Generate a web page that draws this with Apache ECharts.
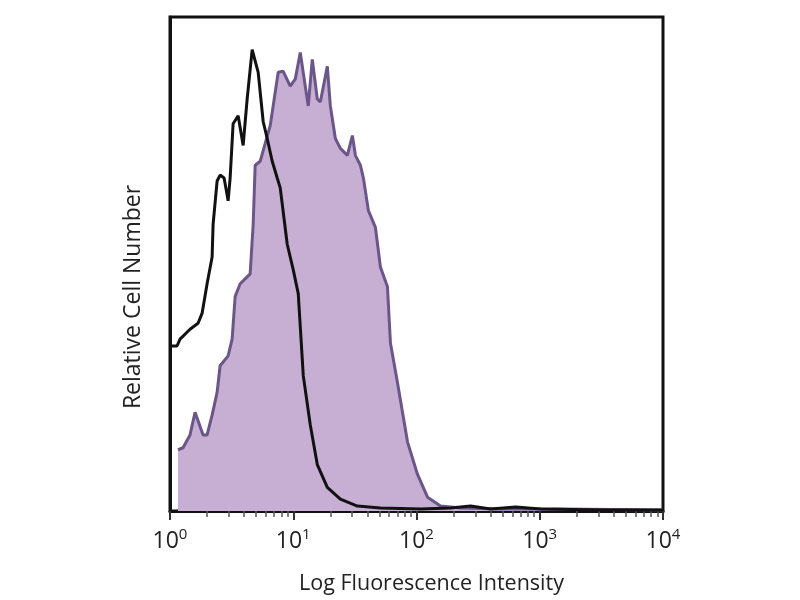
<!DOCTYPE html>
<html>
<head>
<meta charset="utf-8">
<script src="https://cdn.jsdelivr.net/npm/echarts@6/dist/echarts.min.js"></script>
<style>
  html, body { margin: 0; padding: 0; background: #fff; }
  #chart { width: 800px; height: 600px; }
</style>
</head>
<body>
<div id="chart"></div>
<script>
// control (black outline) histogram
let controlX = [1.019, 1.14, 1.206, 1.454, 1.689, 1.82, 2.0, 2.196, 2.237, 2.411, 2.55, 2.748, 2.962, 3.075, 3.252, 3.572, 3.922, 4.227, 4.642, 5.194, 5.704, 6.146, 6.751, 7.413, 7.841, 8.936, 10.0, 10.98, 11.4, 12.06, 13.75, 15.67, 18.9, 24.11, 33.14, 50.96, 107.8, 189, 274.8, 399.6, 638, 1019, 3133, 10000]
let controlY = [33.4, 33.4, 34.8, 36.8, 38, 40, 46, 51.4, 58, 66.8, 68, 67.4, 62.8, 67.4, 78.4, 80, 74, 83.4, 93.4, 88.8, 78.8, 75.4, 70.8, 67.4, 65.4, 54, 48.8, 44, 37.4, 27.4, 17.4, 9.4, 4.8, 2.4, 1, 0.6, 0.4, 0.6, 1, 0.4, 0.8, 0.4, 0.2, 0.2]

// stained (purple filled) histogram
let stainX = [1.161, 1.276, 1.454, 1.597, 1.855, 2.0, 2.196, 2.411, 2.55, 2.962, 3.192, 3.377, 3.709, 4.471, 4.729, 4.91, 5.393, 5.923, 6.501, 7.551, 8.292, 9.454, 10.38, 11.4, 12.52, 13.24, 14.27, 15.67, 16.58, 18.9, 20.0, 21.96, 24.11, 27.48, 30.18, 31.92, 35.05, 37.08, 40.72, 46.42, 50.96, 58.11, 61.46, 70.06, 84.52, 101.9, 122.9, 156.7, 227.9, 481.9, 1482, 10000]
let stainY = [12.4, 12.8, 15.4, 20, 15.4, 15.4, 19.4, 24, 29.4, 31.4, 34.8, 43.4, 46, 48, 58, 70, 70.8, 74.4, 78, 88.8, 89, 86, 87.4, 92.8, 86, 82, 91.4, 83.4, 82.8, 90, 82, 75.4, 73.4, 72, 76, 72, 70, 67.4, 60.8, 57.4, 49.4, 45.4, 34, 26, 14, 7.4, 2.8, 1, 0.6, 0.4, 0.4, 0.2]

let zip = (xs, ys) => xs.map((x, i) => [x, ys[i]])

let chart = echarts.init(document.getElementById('chart'))

chart.setOption({
  animation: false,
  backgroundColor: '#fff',
  textStyle: { fontFamily: 'Open Sans' },
  grid: {
    left: 170, right: 137, top: 17, bottom: 83,
    show: true, borderColor: '#111', borderWidth: 3
  },
  // y title sits a bit below the plot middle in the original
  graphic: [{
    type: 'text',
    x: 133,
    y: 297,
    rotation: Math.PI / 2,
    style: {
      text: 'Relative Cell Number',
      fontSize: 23,
      fontFamily: 'Open Sans',
      fill: '#222',
      align: 'center',
      verticalAlign: 'middle'
    }
  }],
  xAxis: {
    type: 'log',
    logBase: 10,
    min: 1,
    max: 10000,
    name: 'Log Fluorescence Intensity',
    nameLocation: 'middle',
    nameGap: 62,
    nameTextStyle: { fontSize: 21.5, color: '#222', padding: [0, 0, 0, 30] },
    axisLine: { show: true, lineStyle: { color: '#111', width: 3 } },
    axisTick: { show: true, length: 9, lineStyle: { color: '#333', width: 2 } },
    minorTick: { show: true, splitNumber: 9, length: 6, lineStyle: { color: '#555', width: 1.5 } },
    splitLine: { show: false },
    axisLabel: {
      margin: 16,
      color: '#222',
      formatter: v => '{b|10}{s|' + Math.round(Math.log10(v)) + '}',
      rich: {
        b: { fontSize: 23, color: '#222', fontFamily: 'Open Sans' },
        s: { fontSize: 15, color: '#222', fontFamily: 'Open Sans', padding: [0, 0, 14, 0] }
      }
    }
  },
  yAxis: {
    type: 'value',
    min: 0,
    max: 100,
    axisLine: { show: true, lineStyle: { color: '#111', width: 3 } },
    axisTick: { show: false },
    axisLabel: { show: false },
    splitLine: { show: false }
  },
  series: [
    {
      name: 'stained',
      type: 'line',
      data: zip(stainX, stainY),
      symbol: 'none',
      lineStyle: { color: '#6a5689', width: 3 },
      areaStyle: { color: '#c6afd3', opacity: 1 }
    },
    {
      name: 'control',
      type: 'line',
      data: zip(controlX, controlY),
      symbol: 'none',
      lineStyle: { color: '#111', width: 3 }
    }
  ]
})
</script>
</body>
</html>
